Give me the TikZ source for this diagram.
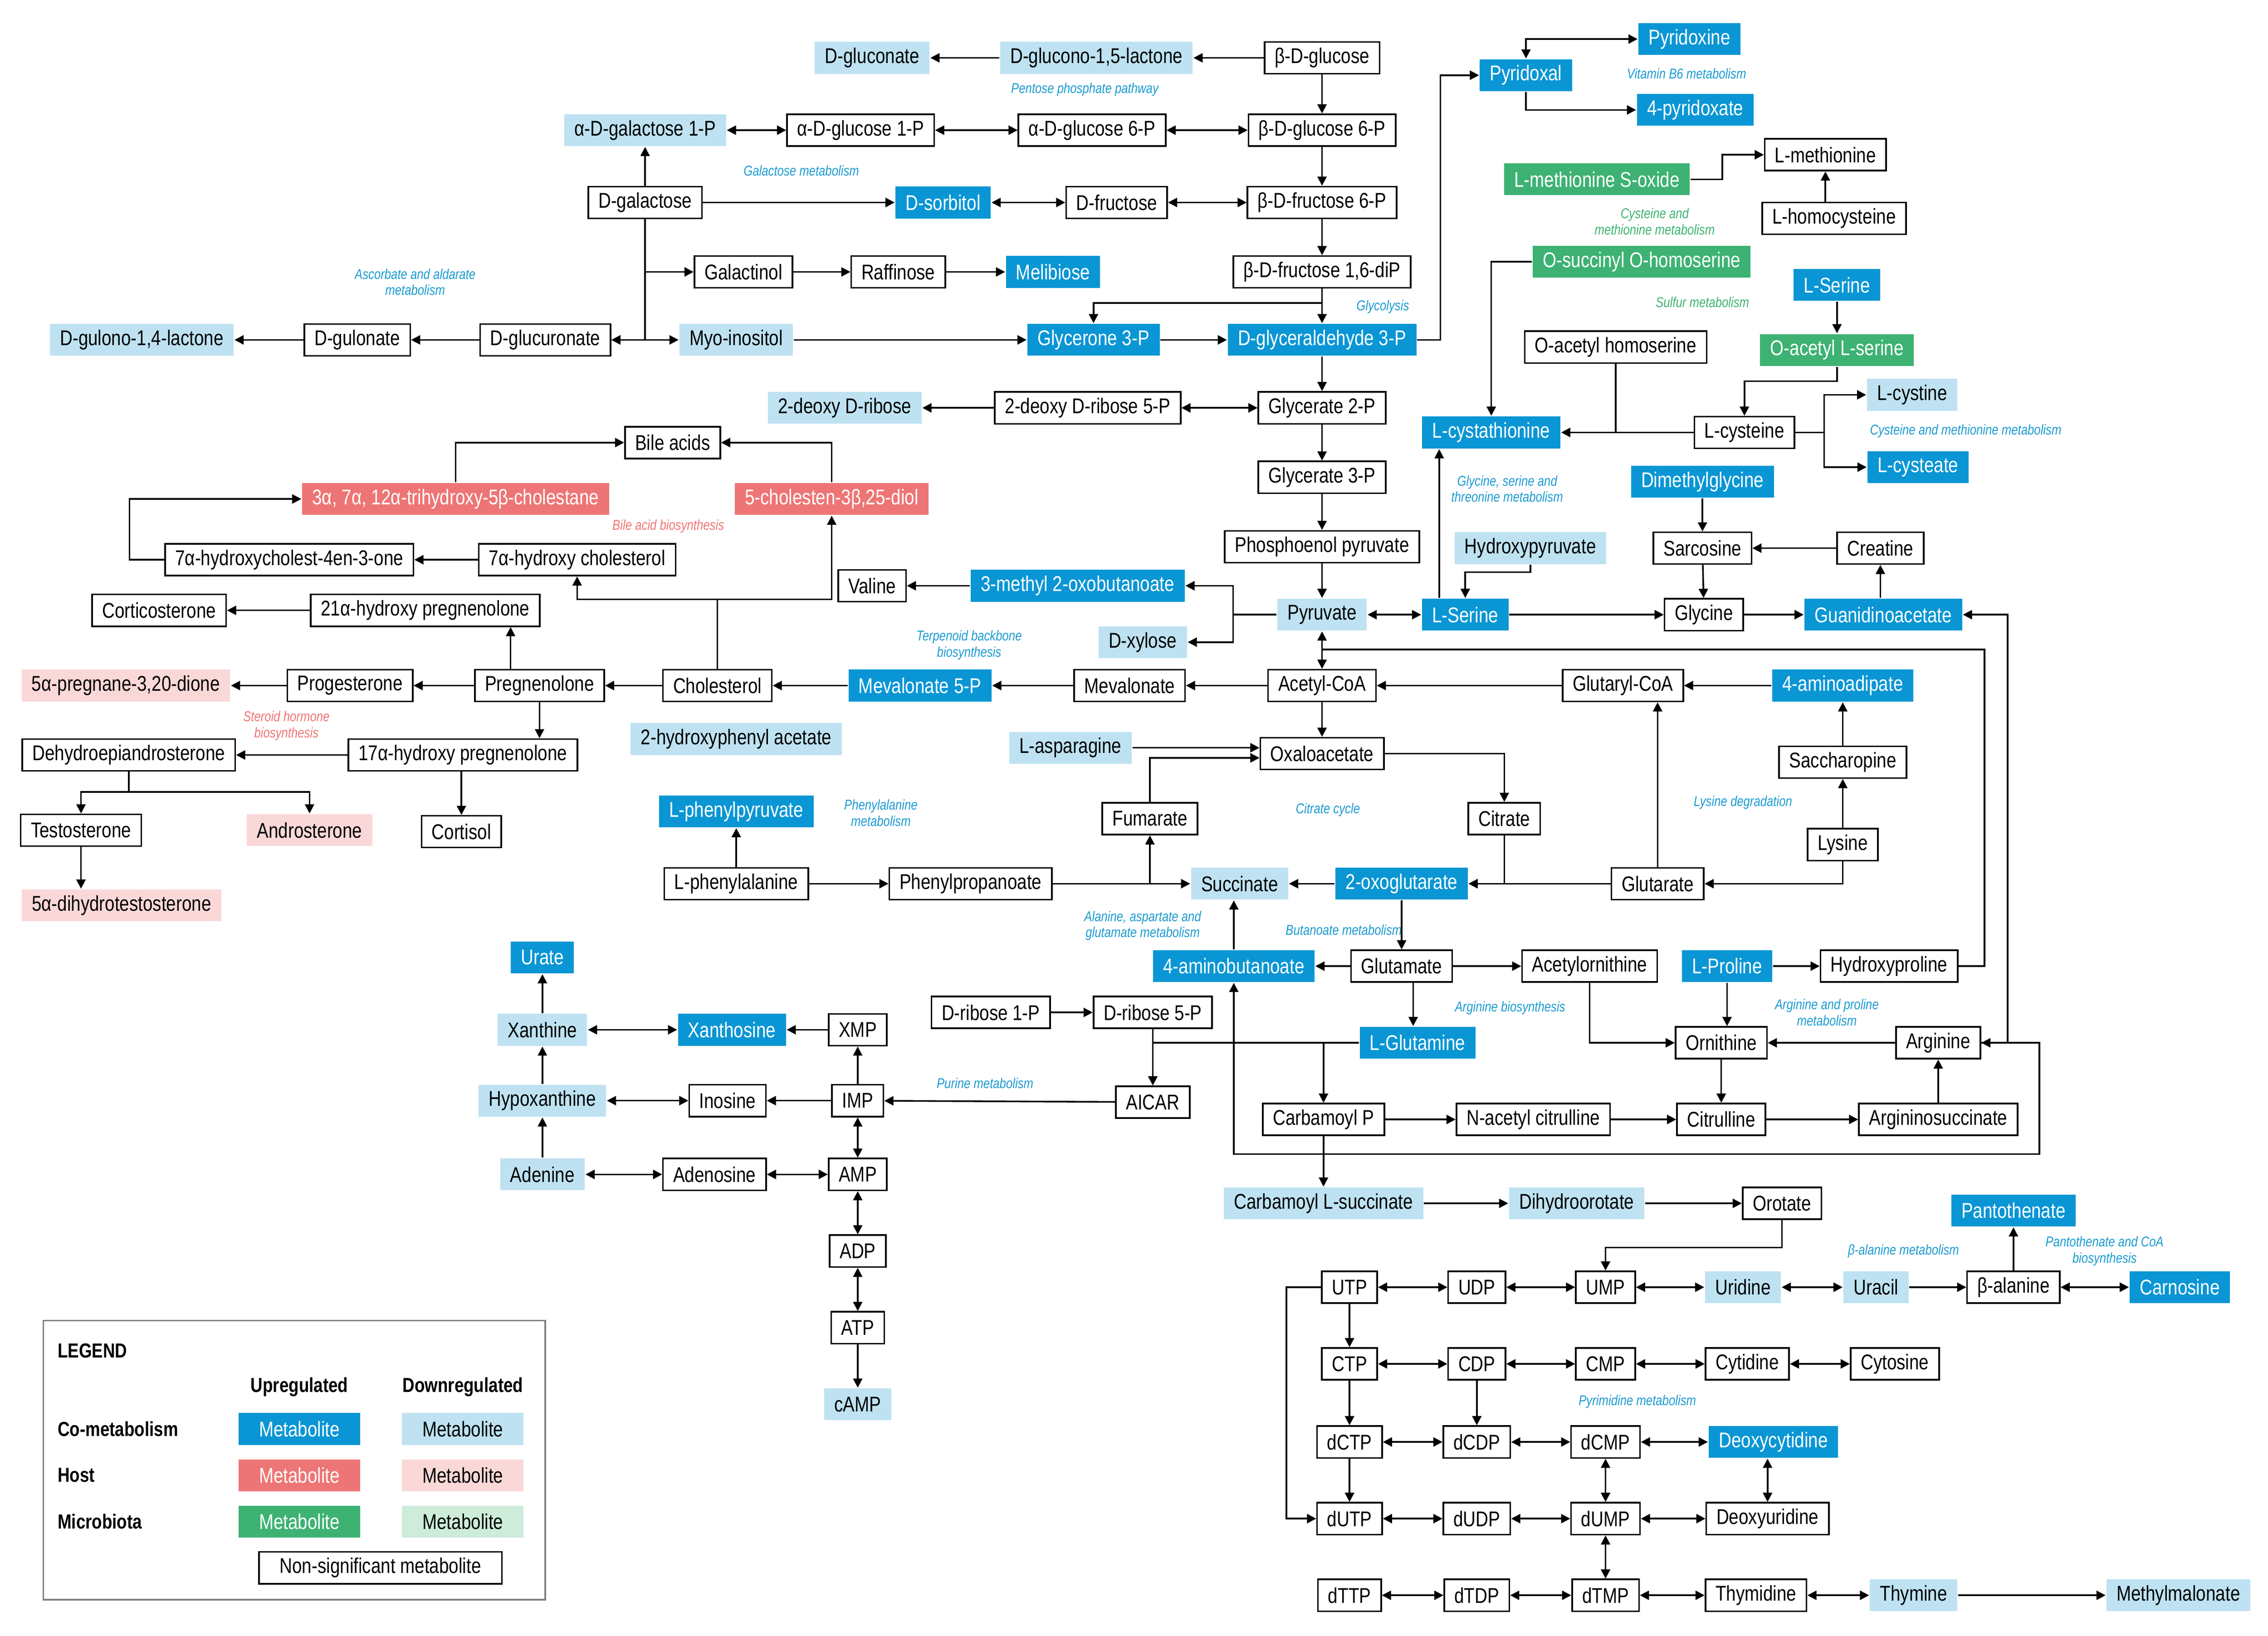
\documentclass[tikz,border=0pt]{standalone}
\usepackage{fontspec}
\setmainfont[FakeStretch=0.82]{Liberation Sans}
\usetikzlibrary{arrows.meta}
\definecolor{coUp}{HTML}{0A96D4}
\definecolor{coDn}{HTML}{BEE2F1}
\definecolor{hoUp}{HTML}{EE7575}
\definecolor{hoDn}{HTML}{FBD8D8}
\definecolor{miUp}{HTML}{3DB273}
\definecolor{miDn}{HTML}{CDECDA}
\definecolor{pwBlue}{HTML}{1C9BD0}
\tikzset{
  met/.style={minimum height=1.1cm, inner xsep=10pt, font=\fontsize{21}{24}\selectfont},
  ns/.style={met, draw, line width=1.6pt, fill=white},
  cu/.style={met, fill=coUp, text=white},
  cd/.style={met, fill=coDn},
  hu/.style={met, fill=hoUp, text=white},
  hd/.style={met, fill=hoDn},
  mu/.style={met, fill=miUp, text=white},
  md/.style={met, fill=miDn},
  pw/.style={font=\itshape\fontsize{14}{16}\selectfont, text=pwBlue, align=center},
  pwh/.style={pw, text=hoUp},
  pwm/.style={pw, text=miUp},
  lg/.style={font=\bfseries\fontsize{20}{23}\selectfont, anchor=west},
  every path/.style={line width=1.6pt},
  >={Triangle[length=9pt,width=9pt]}
}
\begin{document}
\begin{tikzpicture}[x=0.05cm,y=-0.05cm]
    \useasboundingbox (0,0) rectangle (1568,1131);

    % Glycolysis and sugars
    \node[ns] (bglc) at (914,40) {β-D-glucose};
    \node[cd] (glac) at (758,40) {D-glucono-1,5-lactone};
    \node[cd] (glcn) at (603,40) {D-gluconate};
    \node[ns] (bg6p) at (914,90) {β-D-glucose 6-P};
    \node[ns] (ag6p) at (755,90) {α-D-glucose 6-P};
    \node[ns] (ag1p) at (595,90) {α-D-glucose 1-P};
    \node[cd] (agal1p) at (446,90) {α-D-galactose 1-P};
    \node[ns] (bf6p) at (914,140) {β-D-fructose 6-P};
    \node[ns] (dfru) at (772,140) {D-fructose};
    \node[cu] (dsor) at (652,140) {D-sorbitol};
    \node[ns] (dgal) at (446,140) {D-galactose};
    \node[ns] (bfdp) at (914,188) {β-D-fructose 1,6-diP};
    \node[ns] (galt) at (514,188) {Galactinol};
    \node[ns] (raf) at (621,188) {Raffinose};
    \node[cu] (mel) at (728,188) {Melibiose};
    \node[cu] (g3p) at (756,235) {Glycerone 3-P};
    \node[cu] (gap) at (914,235) {D-glyceraldehyde 3-P};
    \node[cd] (myo) at (509,235) {Myo-inositol};
    \node[ns] (dglcr) at (377,235) {D-glucuronate};
    \node[ns] (dgul) at (247,235) {D-gulonate};
    \node[cd] (gull) at (98,235) {D-gulono-1,4-lactone};
    \node[ns] (gly2p) at (914,282) {Glycerate 2-P};
    \node[ns] (dr5p) at (752,282) {2-deoxy D-ribose 5-P};
    \node[cd] (drib) at (584,282) {2-deoxy D-ribose};
    \node[ns] (gly3p) at (914,330) {Glycerate 3-P};
    \node[ns] (pep) at (914,378) {Phosphoenol pyruvate};
    \node[cd] (pyr) at (914,425) {Pyruvate};
    \node[ns] (accoa) at (914,474) {Acetyl-CoA};
    \node[ns] (oaa) at (914,521) {Oxaloacetate};

    % Vitamin B6, sulfur and serine
    \node[cu] (pyrdxl) at (1055,52) {Pyridoxal};
    \node[cu] (pyrdx) at (1168,27) {Pyridoxine};
    \node[cu] (pyrdxa) at (1172,76) {4-pyridoxate};
    \node[ns] (lmet) at (1262,107) {L-methionine};
    \node[mu] (metso) at (1104,124) {L-methionine S-oxide};
    \node[ns] (hcys) at (1268,151) {L-homocysteine};
    \node[mu] (osh) at (1135,181) {O-succinyl O-homoserine};
    \node[cu] (lser1) at (1270,197) {L-Serine};
    \node[mu] (oas) at (1270,242) {O-acetyl L-serine};
    \node[ns] (oah) at (1117,240) {O-acetyl homoserine};
    \node[cu] (cysta) at (1031,299) {L-cystathionine};
    \node[ns] (cys) at (1206,299) {L-cysteine};
    \node[cd] (cysti) at (1322,273) {L-cystine};
    \node[cu] (cyst) at (1326,323) {L-cysteate};
    \node[cu] (dmg) at (1177,333) {Dimethylglycine};
    \node[cd] (hpyr) at (1058,379) {Hydroxypyruvate};
    \node[ns] (sar) at (1177,379) {Sarcosine};
    \node[ns] (crea) at (1300,379) {Creatine};
    \node[cu] (lser2) at (1013,425) {L-Serine};
    \node[ns] (glyc) at (1178,425) {Glycine};
    \node[cu] (gaa) at (1302,425) {Guanidinoacetate};

    % Lysine and citrate cycle
    \node[ns] (glutcoa) at (1122,474) {Glutaryl-CoA};
    \node[cu] (aad) at (1274,474) {4-aminoadipate};
    \node[ns] (sacc) at (1274,527) {Saccharopine};
    \node[ns] (lys) at (1274,584) {Lysine};
    \node[ns] (glutar) at (1146,611) {Glutarate};
    \node[ns] (citr) at (1040,566) {Citrate};
    \node[cu] (og) at (969,611) {2-oxoglutarate};
    \node[cd] (succ) at (857,611) {Succinate};
    \node[ns] (fum) at (795,566) {Fumarate};
    \node[cd] (lasn) at (740,517) {L-asparagine};
    \node[ns] (pp) at (671,611) {Phenylpropanoate};
    \node[ns] (phe) at (509,611) {L-phenylalanine};
    \node[cu] (lphp) at (509,561) {L-phenylpyruvate};
    \node[cd] (hpa) at (509,511) {2-hydroxyphenyl acetate};
    \node[ns] (val) at (603,405) {Valine};
    \node[cu] (mob) at (745,405) {3-methyl 2-oxobutanoate};
    \node[cd] (xyl) at (790,444) {D-xylose};
    \node[ns] (mev) at (781,474) {Mevalonate};
    \node[cu] (mev5p) at (636,474) {Mevalonate 5-P};

    % Steroids and bile acids
    \node[ns] (chol) at (496,474) {Cholesterol};
    \node[ns] (preg) at (373,474) {Pregnenolone};
    \node[ns] (prog) at (242,474) {Progesterone};
    \node[hd] (preg5a) at (87,474) {5α-pregnane-3,20-dione};
    \node[ns] (h21) at (294,422) {21α-hydroxy pregnenolone};
    \node[ns] (cort) at (110,422) {Corticosterone};
    \node[ns] (h17) at (320,522) {17α-hydroxy pregnenolone};
    \node[ns] (dhea) at (89,522) {Dehydroepiandrosterone};
    \node[ns] (test) at (56,574) {Testosterone};
    \node[hd] (andr) at (214,574) {Androsterone};
    \node[ns] (cortisol) at (319,575) {Cortisol};
    \node[hd] (dht) at (84,626) {5α-dihydrotestosterone};
    \node[ns] (h7chol) at (399,387) {7α-hydroxy cholesterol};
    \node[ns] (h7c4) at (200,387) {7α-hydroxycholest-4en-3-one};
    \node[hu] (thc) at (315,345) {3α, 7α, 12α-trihydroxy-5β-cholestane};
    \node[hu] (chd) at (575,345) {5-cholesten-3β,25-diol};
    \node[ns] (bile) at (465,306) {Bile acids};

    % Amino acids
    \node[ns] (glu) at (969,668) {Glutamate};
    \node[cu] (aba) at (853,668) {4-aminobutanoate};
    \node[ns] (acorn) at (1099,668) {Acetylornithine};
    \node[cu] (pro) at (1194,668) {L-Proline};
    \node[ns] (hyp) at (1306,668) {Hydroxyproline};
    \node[cu] (gln) at (980,721) {L-Glutamine};
    \node[ns] (orn) at (1190,721) {Ornithine};
    \node[ns] (arg) at (1340,721) {Arginine};
    \node[ns] (cit) at (1190,774) {Citrulline};
    \node[ns] (argsuc) at (1340,774) {Argininosuccinate};
    \node[ns] (nac) at (1060,774) {N-acetyl citrulline};
    \node[ns] (carbp) at (915,774) {Carbamoyl P};
    \node[cd] (carbsuc) at (915,832) {Carbamoyl L-succinate};
    \node[cd] (dho) at (1090,832) {Dihydroorotate};
    \node[ns] (oro) at (1232,832) {Orotate};

    % Purines
    \node[ns] (dr1p) at (685,700) {D-ribose 1-P};
    \node[ns] (dr5p2) at (797,700) {D-ribose 5-P};
    \node[ns] (aicar) at (797,762) {AICAR};
    \node[cu] (urate) at (375,662) {Urate};
    \node[cd] (xan) at (375,712) {Xanthine};
    \node[cu] (xao) at (506,712) {Xanthosine};
    \node[ns] (xmp) at (593,712) {XMP};
    \node[cd] (hx) at (375,761) {Hypoxanthine};
    \node[ns] (ino) at (503,761) {Inosine};
    \node[ns] (imp) at (593,761) {IMP};
    \node[cd] (ade) at (375,812) {Adenine};
    \node[ns] (ado) at (494,812) {Adenosine};
    \node[ns] (amp) at (593,812) {AMP};
    \node[ns] (adp) at (593,865) {ADP};
    \node[ns] (atp) at (593,918) {ATP};
    \node[cd] (camp) at (593,971) {cAMP};

    % Pyrimidines
    \node[ns] (utp) at (933,890) {UTP};
    \node[ns] (udp) at (1021,890) {UDP};
    \node[ns] (ump) at (1110,890) {UMP};
    \node[cd] (urd) at (1205,890) {Uridine};
    \node[cd] (ura) at (1297,890) {Uracil};
    \node[ns] (bala) at (1392,890) {β-alanine};
    \node[cu] (carn) at (1507,890) {Carnosine};
    \node[cu] (pant) at (1392,837) {Pantothenate};
    \node[ns] (ctp) at (933,943) {CTP};
    \node[ns] (cdp) at (1021,943) {CDP};
    \node[ns] (cmp) at (1110,943) {CMP};
    \node[ns] (cyd) at (1208,943) {Cytidine};
    \node[ns] (cyt) at (1310,943) {Cytosine};
    \node[ns] (dctp) at (933,997) {dCTP};
    \node[ns] (dcdp) at (1021,997) {dCDP};
    \node[ns] (dcmp) at (1110,997) {dCMP};
    \node[cu] (dcyd) at (1226,997) {Deoxycytidine};
    \node[ns] (dutp) at (933,1050) {dUTP};
    \node[ns] (dudp) at (1021,1050) {dUDP};
    \node[ns] (dump) at (1110,1050) {dUMP};
    \node[ns] (durd) at (1222,1050) {Deoxyuridine};
    \node[ns] (dttp) at (933,1103) {dTTP};
    \node[ns] (dtdp) at (1021,1103) {dTDP};
    \node[ns] (dtmp) at (1110,1103) {dTMP};
    \node[ns] (thd) at (1214,1103) {Thymidine};
    \node[cd] (thy) at (1323,1103) {Thymine};
    \node[cd] (mma) at (1506,1103) {Methylmalonate};

    % Pathway names
    \node[pw] at (750,62) {Pentose phosphate pathway};
    \node[pw] at (1166,51) {Vitamin B6 metabolism};
    \node[pw] at (554,118) {Galactose metabolism};
    \node[pw] at (287,195) {Ascorbate and aldarate\\metabolism};
    \node[pwm] at (1144,153) {Cysteine and\\methionine metabolism};
    \node[pwm] at (1177,209) {Sulfur metabolism};
    \node[pw] at (956,212) {Glycolysis};
    \node[pwh] at (462,364) {Bile acid biosynthesis};
    \node[pw] at (1042,338) {Glycine, serine and\\threonine metabolism};
    \node[pw] at (1359,298) {Cysteine and methionine metabolism};
    \node[pw] at (670,446) {Terpenoid backbone\\biosynthesis};
    \node[pwh] at (198,502) {Steroid hormone\\biosynthesis};
    \node[pw] at (609,562) {Phenylalanine\\metabolism};
    \node[pw] at (918,560) {Citrate cycle};
    \node[pw] at (1205,555) {Lysine degradation};
    \node[pw] at (790,640) {Alanine, aspartate and\\glutamate metabolism};
    \node[pw] at (929,643) {Butanoate metabolism};
    \node[pw] at (1044,697) {Arginine biosynthesis};
    \node[pw] at (1263,700) {Arginine and proline\\metabolism};
    \node[pw] at (681,749) {Purine metabolism};
    \node[pw] at (1316,865) {β-alanine metabolism};
    \node[pw] at (1455,865) {Pantothenate and CoA\\biosynthesis};
    \node[pw] at (1132,969) {Pyrimidine metabolism};

    % Sugar connectors
    \draw[->] (bglc) -- (glac);
    \draw[->] (glac) -- (glcn);
    \draw[->] (bglc) -- (bg6p);
    \draw[<->] (bg6p) -- (ag6p);
    \draw[<->] (ag6p) -- (ag1p);
    \draw[<->] (ag1p) -- (agal1p);
    \draw[->] (bg6p) -- (bf6p);
    \draw[->] (dgal) -- (agal1p);
    \draw[->] (dgal) -- (dsor);
    \draw[<->] (dsor) -- (dfru);
    \draw[<->] (dfru) -- (bf6p);
    \draw[->] (bf6p) -- (bfdp);
    \draw (dgal) -- (dgal |- myo);
    \draw[->] (dgal |- galt) -- (galt);
    \draw[->] (galt) -- (raf);
    \draw[->] (raf) -- (mel);
    \draw[<->] (dglcr) -- (myo);
    \draw[->] (dglcr) -- (dgul);
    \draw[->] (dgul) -- (gull);
    \draw[->] (myo) -- (g3p);
    \draw[->] (g3p) -- (gap);
    \draw[->] (bfdp) -- (gap);
    \draw[->] (bfdp.south) -- ++(0,10) -| (g3p.north);
    \draw[->] (gap.east) -- ++(16,0) |- (pyrdxl.west);
    \draw[<->] (pyrdxl.north) |- (pyrdx.west);
    \draw[->] (pyrdxl.south) |- (pyrdxa.west);
    \draw[->] (gap) -- (gly2p);
    \draw[<->] (gly2p) -- (dr5p);
    \draw[->] (dr5p) -- (drib);
    \draw[->] (gly2p) -- (gly3p);
    \draw[->] (gly3p) -- (pep);
    \draw[->] (pep) -- (pyr);
    \draw[<->] (pyr) -- (accoa);
    \draw[->] (accoa) -- (oaa);
    \draw[->] (pyr.west) -- ++(-30,0) |- (mob.east);
    \draw[->] (pyr.west) ++(-30,0) |- (xyl.east);
    \draw[->] (mob) -- (val);

    % Sulfur and serine connectors
    \draw[->] (metso.east) -- ++(22,0) |- (lmet.west);
    \draw[->] (hcys.north -| lmet) -- (lmet.south);
    \draw[->] (lser1) -- (oas);
    \draw[->] (oas.south) -- ++(0,10) -| (cys.north);
    \draw[->] (osh.west) -| (cysta.north);
    \draw (oah) -- (oah |- cys);
    \draw[->] (cys) -- (cysta);
    \draw[->] (cys.east) -- ++(20,0) |- (cysti.west);
    \draw[->] (cys.east) -- ++(20,0) |- (cyst.west);
    \draw[<->] (pyr) -- (lser2);
    \draw[->] ([xshift=-0.9cm]lser2.north) -- ([xshift=-0.9cm]lser2.north |- cysta.south);
    \draw[->] (hpyr.south) -- ++(0,5) -| (lser2.north);
    \draw[->] (lser2) -- (glyc);
    \draw[->] (glyc) -- (gaa);
    \draw[->] (gaa.north -| crea) -- (crea.south);
    \draw[->] (crea) -- (sar);
    \draw[->] (dmg) -- (sar);
    \draw[->] (sar) -- (glyc);

    % Steroid connectors
    \draw[->] (accoa) -- (mev);
    \draw[->] (mev) -- (mev5p);
    \draw[->] (mev5p) -- (chol);
    \draw[->] (chol) -- (preg);
    \draw[->] (preg) -- (prog);
    \draw[->] (prog) -- (preg5a);
    \draw[->] ([xshift=-1cm]preg.north) -- ([xshift=-1cm]preg.north |- h21.south);
    \draw[->] (h21) -- (cort);
    \draw[->] (preg.south) -- (preg.south |- h17.north);
    \draw[->] (h17.south -| cortisol) -- (cortisol.north);
    \draw[->] (h17) -- (dhea);
    \draw (dhea.south) -- ++(0,14) coordinate (dj);
    \draw[->] (dj) -| (test.north);
    \draw[->] (dj) -| (andr.north);
    \draw[->] (test) -- (test |- dht.north);
    \draw[->] (chol.north) -- ++(0,-48) -| (chd.south);
    \draw[->] (chol.north) ++(0,-48) -| (h7chol.south);
    \draw[->] (h7chol) -- (h7c4);
    \draw[->] (h7c4.west) -- ++(-24,0) |- (thc.west);
    \draw[->] (thc.north) |- (bile.west);
    \draw[->] (chd.north) |- (bile.east);

    % Citrate cycle and amino acid connectors
    \draw[->] (phe) -- (lphp);
    \draw[->] (phe) -- (pp);
    \draw[->] (pp) -- (succ);
    \draw[->] (fum |- pp) -- (fum.south);
    \draw[->] (fum.north) |- ([yshift=-0.15cm]oaa.west);
    \draw[->] (lasn.east) -- (lasn.east -| oaa.west);
    \draw[->] (oaa.east) -| (citr.north);
    \draw[->] (citr.south) |- (og.east);
    \draw[->] (glutar) -- (og);
    \draw[->] (og) -- (succ);
    \draw[->] (og) -- (glu);
    \draw[->] (glu) -- (aba);
    \draw[->] (aba) -- (aba |- succ.south);
    \draw[->] (glu) -- (acorn);
    \draw[->] (acorn.south) |- (orn.west);
    \draw[->] ([xshift=0.4cm]glu.south) -- ([xshift=0.4cm]glu.south |- gln.north);
    \draw[->] (lys.south) |- (glutar.east);
    \draw[->] (lys) -- (sacc);
    \draw[->] (sacc) -- (aad);
    \draw[->] (aad) -- (glutcoa);
    \draw[->] (glutcoa) -- (accoa);
    \draw[->] (glutar) -- (glutar |- glutcoa.south);
    \draw[->] (pro) -- (hyp);
    \draw[->] (pro) -- (pro |- orn.north);
    \coordinate (pj) at (914,449);
    \draw (hyp.east) -- (1372,668) |- (pj);
    \draw[->] (arg.east) -- (1388,721) |- (gaa.east);
    \draw[<->] (arg.east) -- (1410,721) |- (853,798) -- (aba.south);
    \draw[->] (arg) -- (orn);
    \draw[->] (argsuc) -- (arg);
    \draw[->] (cit) -- (argsuc);
    \draw[->] (orn) -- (cit);
    \draw[->] (nac) -- (cit);
    \draw[->] (carbp) -- (nac);
    \draw[->] (gln.west) -| (carbp.north);
    \draw[->] (gln.west) -| (aicar.north);
    \draw[->] (carbp) -- (carbsuc);
    \draw[->] (carbsuc) -- (dho);
    \draw[->] (dho) -- (oro);
    \draw[->] (oro.south) -- ++(0,19) -| (ump.north);

    % Purine connectors
    \draw[->] (dr1p) -- (dr5p2);
    \draw[->] (dr5p2) -- (aicar);
    \draw[->] (aicar) -- (imp);
    \draw[->] (imp) -- (xmp);
    \draw[->] (xmp) -- (xao);
    \draw[<->] (xao) -- (xan);
    \draw[->] (xan) -- (urate);
    \draw[->] (hx) -- (xan);
    \draw[->] (imp) -- (ino);
    \draw[<->] (ino) -- (hx);
    \draw[->] (ade) -- (hx);
    \draw[<->] (ade) -- (ado);
    \draw[<->] (ado) -- (amp);
    \draw[<->] (amp) -- (imp);
    \draw[<->] (amp) -- (adp);
    \draw[<->] (adp) -- (atp);
    \draw[->] (atp) -- (camp);

    % Pyrimidine connectors
    \draw[->] (utp) -- (ctp);
    \draw[<->] (utp) -- (udp);
    \draw[<->] (udp) -- (ump);
    \draw[<->] (ump) -- (urd);
    \draw[<->] (urd) -- (ura);
    \draw[->] (ura) -- (bala);
    \draw[<->] (bala) -- (carn);
    \draw[->] (bala) -- (pant);
    \draw[<->] (ctp) -- (cdp);
    \draw[<->] (cdp) -- (cmp);
    \draw[<->] (cmp) -- (cyd);
    \draw[<->] (cyd) -- (cyt);
    \draw[->] (ctp) -- (dctp);
    \draw[->] (cdp) -- (dcdp);
    \draw[<->] (dctp) -- (dcdp);
    \draw[<->] (dcdp) -- (dcmp);
    \draw[<->] (dcmp) -- (dcyd);
    \draw[<->] (dcmp) -- (dump);
    \draw[<->] (dcyd.south -| durd) -- (durd.north);
    \draw[->] (dctp) -- (dutp);
    \draw[->] (utp.west) -- ++(-24,0) |- (dutp.west);
    \draw[<->] (dutp) -- (dudp);
    \draw[<->] (dudp) -- (dump);
    \draw[<->] (dump) -- (durd);
    \draw[<->] (dump) -- (dtmp);
    \draw[<->] (dttp) -- (dtdp);
    \draw[<->] (dtdp) -- (dtmp);
    \draw[<->] (dtmp) -- (thd);
    \draw[<->] (thd) -- (thy);
    \draw[->] (thy) -- (mma);

    % Legend
    \draw[gray] (30,913) rectangle (377,1106);
    \node[lg] (lgT) at (37,934) {LEGEND};
    \node[lg, anchor=center] (lgU) at (207,959) {Upregulated};
    \node[lg, anchor=center] (lgD) at (320,959) {Downregulated};
    \node[lg] (lgC) at (37,988) {Co-metabolism};
    \node[lg] (lgH) at (37,1020) {Host};
    \node[lg] (lgM) at (37,1052) {Microbiota};
    \node[cu, minimum width=4.2cm] (lgCU) at (207,988) {Metabolite};
    \node[cd, minimum width=4.2cm] (lgCD) at (320,988) {Metabolite};
    \node[hu, minimum width=4.2cm] (lgHU) at (207,1020) {Metabolite};
    \node[hd, minimum width=4.2cm] (lgHD) at (320,1020) {Metabolite};
    \node[mu, minimum width=4.2cm] (lgMU) at (207,1052) {Metabolite};
    \node[md, minimum width=4.2cm] (lgMD) at (320,1052) {Metabolite};
    \node[ns, minimum width=8.4cm] (lgN) at (263,1084) {Non-significant metabolite};
\end{tikzpicture}
\end{document}
